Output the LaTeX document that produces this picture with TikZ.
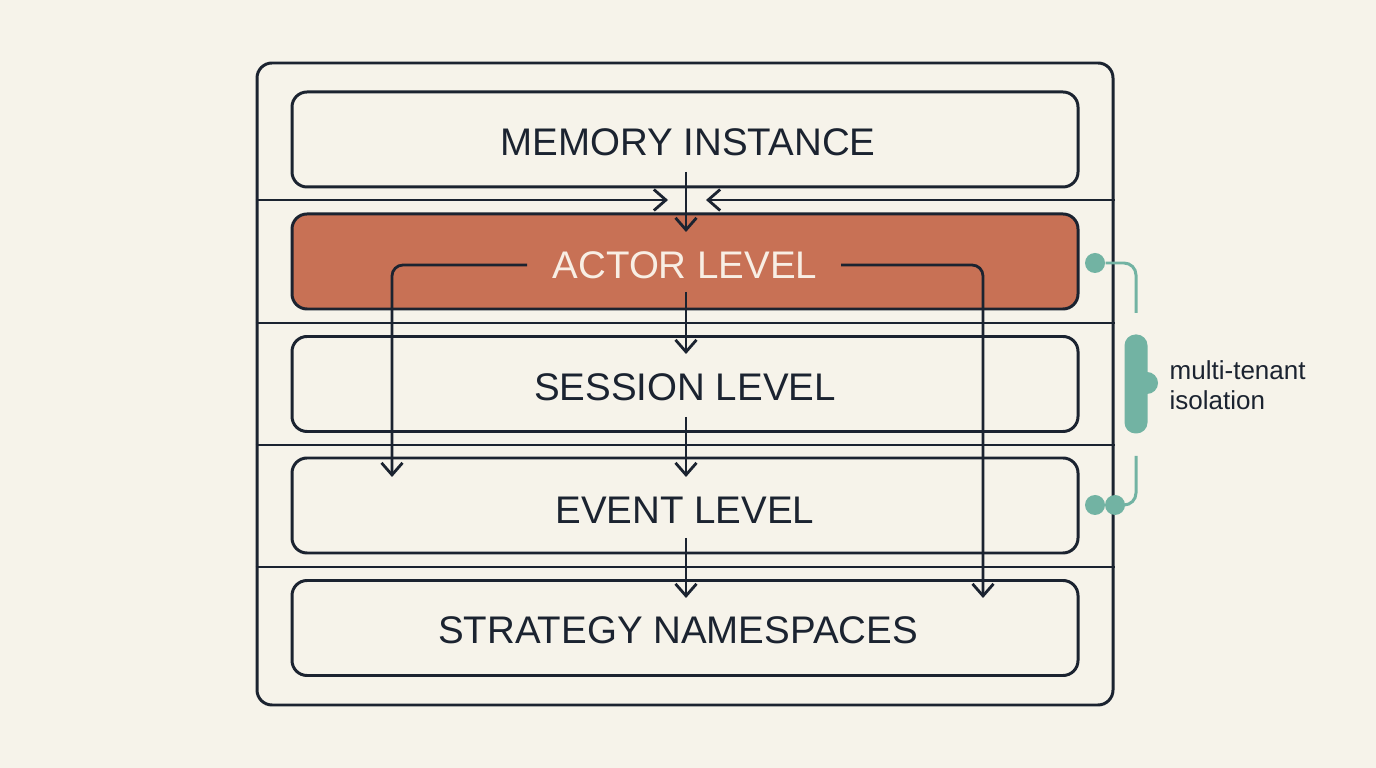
\documentclass[tikz,border=0pt]{standalone}
\usepackage{fontspec}
\setmainfont{Liberation Sans}
\usetikzlibrary{arrows.meta,calc}
\definecolor{bgc}{HTML}{F6F3EA}
\definecolor{ink}{HTML}{1B2330}
\definecolor{rust}{HTML}{C87155}
\definecolor{tealx}{HTML}{72B3A3}
\definecolor{cream}{HTML}{F8EEE4}
\begin{document}
\begin{tikzpicture}[x=0.1mm,y=-0.1mm,
  layerbox/.style={draw=ink, line width=0.85pt, rounded corners=1.5mm, minimum width=78.6mm, minimum height=9.5mm, inner sep=0pt},
  outerbox/.style={draw=ink, line width=0.85pt, rounded corners=1.5mm, minimum width=85.6mm, minimum height=64.2mm, inner sep=0pt},
  lbl/.style={font=\fontsize{10.95pt}{13pt}\selectfont, text=ink, anchor=base, inner sep=0pt},
  divider/.style={draw=ink, line width=0.75pt},
  arr/.style={draw=ink, line width=0.8pt, -{Straight Barb[length=1.2mm,width=2.1mm,line width=0.8pt]}},
  arrr/.style={arr, rounded corners=1.1mm},
  tline/.style={draw=tealx, line width=0.85pt, rounded corners=1.2mm},
  tdot/.style={circle, fill=tealx, minimum size=2mm, inner sep=0pt},
  note/.style={font=\fontsize{7.4pt}{8.4pt}\selectfont, text=ink, align=left, anchor=west, inner sep=0pt}
]
\useasboundingbox[fill=bgc] (0,0) rectangle (1376,768);

% outer frame
\node[outerbox] (outer) at (685,384) {};

% layer boxes
\node[layerbox] (mem) at (685,139.5) {};
\node[layerbox, fill=rust] (act) at (685,261.5) {};
\node[layerbox] (ses) at (685,384) {};
\node[layerbox] (evt) at (685,505.5) {};
\node[layerbox] (str) at (685,628) {};

% dividers
\coordinate (d1) at (685,200);
\coordinate (d2) at (685,323);
\coordinate (d3) at (685,445);
\coordinate (d4) at (685,567);
\draw[divider] (outer.west |- d2) -- (outer.east |- d2);
\draw[divider] (outer.west |- d3) -- (outer.east |- d3);
\draw[divider] (outer.west |- d4) -- (outer.east |- d4);

% labels
\node[lbl] (memT) at (688,155.5) {MEMORY INSTANCE};
\node[lbl, text=cream] (actT) at (685,278.5) {ACTOR LEVEL};
\node[lbl] (sesT) at (685,400.5) {SESSION LEVEL};
\node[lbl] (evtT) at (685,523.5) {EVENT LEVEL};
\node[lbl] (strT) at (678,643.5) {STRATEGY NAMESPACES};

% top converging arrows along first divider
\coordinate (inL) at (668,200);
\coordinate (inR) at (706,200);
\draw[arr] (outer.west |- d1) -- (inL);
\draw[arr] (outer.east |- d1) -- (inR);

% central vertical arrows
\coordinate (m0) at (686,172);
\coordinate (m1) at (686,232);
\coordinate (a0) at (686,292);
\coordinate (a1) at (686,354);
\coordinate (s0) at (686,417);
\coordinate (s1) at (686,477);
\coordinate (e0) at (686,538);
\coordinate (e1) at (686,598);
\draw[arr] (m0) -- (m1);
\draw[arr] (a0) -- (a1);
\draw[arr] (s0) -- (s1);
\draw[arr] (e0) -- (e1);

% side routes from actor level
\coordinate (lstart) at (527,265);
\coordinate (lend) at (392,477);
\coordinate (rstart) at (841,265);
\coordinate (rend) at (983,598);
\draw[arrr] (lstart) -- (lend |- lstart) -- (lend);
\draw[arrr] (rstart) -- (rend |- rstart) -- (rend);

% multi-tenant isolation bracket
\node[tdot] (t1) at (1095,263) {};
\node[tdot] (t2) at (1095,505) {};
\node[tdot] (t3) at (1115,505) {};
\coordinate (bt) at (1136,313);
\coordinate (bb) at (1136,456);
\draw[tline] (t1) -- (bt |- t1) -- (bt);
\draw[tline] (bb) -- (bb |- t3) -- (t3);
\node[fill=tealx, rounded corners=1.1mm, minimum width=2.3mm, minimum height=9.9mm, inner sep=0pt] (caps) at (1136,384) {};
\fill[tealx] (1147,383) circle (1.1mm);
\node[note] (noteT) at (1169,385) {multi-tenant\\isolation};
\end{tikzpicture}
\end{document}
